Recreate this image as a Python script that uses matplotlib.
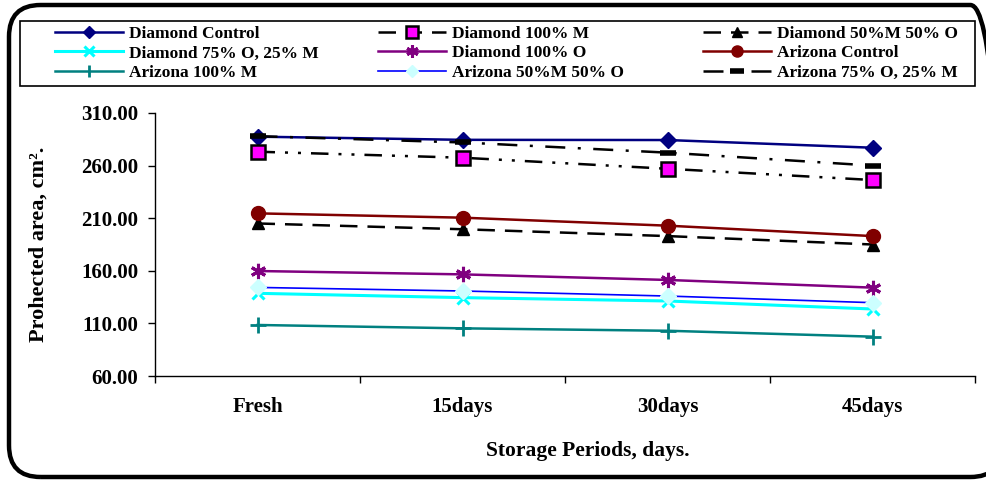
import matplotlib
matplotlib.use("Agg")
import matplotlib.pyplot as plt
from matplotlib.patches import FancyBboxPatch, Rectangle
import numpy as np

plt.rcParams['font.family'] = ['Liberation Serif', 'DejaVu Serif']
plt.rcParams['font.weight'] = 'bold'

periods = ["Fresh", "15days", "30days", "45days"]

diamond_control = [287.5, 284.5, 284.3, 277.0]
diamond_100m = [273.2, 267.5, 257.0, 246.3]
diamond_50m50o = [205.0, 199.5, 193.0, 185.0]
diamond_75o25m = [138.6, 134.5, 131.3, 123.7]
diamond_100o = [159.8, 156.6, 151.3, 144.0]
arizona_control = [214.6, 210.5, 202.9, 193.0]
arizona_100m = [108.5, 105.3, 103.0, 97.4]
arizona_50m50o = [144.2, 140.8, 136.0, 129.7]
arizona_75o25m = [288.0, 282.0, 272.3, 260.0]

yticks = [60, 110, 160, 210, 260, 310]

W, H = 987, 480
fig = plt.figure(figsize=(W / 100, H / 100), dpi=100)

# outer rounded border (extends past right/bottom edge like the reference)
bx0, by0, bx1, by1 = 9, 5, 1002, 477
border = FancyBboxPatch((bx0 / W, 1 - by1 / H), (bx1 - bx0) / W, (by1 - by0) / H,
                        boxstyle="round,pad=0,rounding_size=0.032",
                        transform=fig.transFigure, fill=False, edgecolor='black',
                        linewidth=3.2, mutation_aspect=W / H, clip_on=False)
fig.patches.append(border)

# legend frame
fig.patches.append(Rectangle((20 / W, 1 - 86 / H), (975 - 20) / W, (86 - 21) / H,
                             transform=fig.transFigure, fill=False, edgecolor='black',
                             linewidth=1.2))

ax = fig.add_axes([155 / W, 1 - 376 / H, (975 - 155) / W, (376 - 113) / H])
x = np.arange(len(periods))

series = [
    ("Diamond Control", diamond_control, dict(color='#000080', linestyle='-', linewidth=1.8,
                                              marker='D', markersize=8, markerfacecolor='#000080',
                                              markeredgecolor='#000080')),
    ("Diamond 100% M", diamond_100m, dict(color='black', linestyle=(0, (7, 4, 1.2, 4, 1.2, 4)), linewidth=1.8,
                                          marker='s', markersize=10, markerfacecolor='#FF00FF',
                                          markeredgecolor='black', markeredgewidth=1.8)),
    ("Diamond 50%M 50% O", diamond_50m50o, dict(color='black', linestyle=(0, (7, 4)), linewidth=1.8,
                                                marker='^', markersize=9, markerfacecolor='black',
                                                markeredgecolor='black')),
    ("Diamond 75% O, 25% M", diamond_75o25m, dict(color='#00FFFF', linestyle='-', linewidth=2.2,
                                                 marker='x', markersize=9, markeredgewidth=2.2,
                                                 markeredgecolor='#00FFFF')),
    ("Diamond 100% O", diamond_100o, dict(color='#800080', linestyle='-', linewidth=1.8,
                                          marker=(6, 2, 0), markersize=11, markeredgewidth=2.2,
                                          markeredgecolor='#800080')),
    ("Arizona Control", arizona_control, dict(color='#800000', linestyle='-', linewidth=1.8,
                                              marker='o', markersize=10, markerfacecolor='#800000',
                                              markeredgecolor='#800000')),
    ("Arizona 100% M", arizona_100m, dict(color='#008080', linestyle='-', linewidth=1.8,
                                          marker='|', markersize=11, markeredgewidth=2,
                                          markeredgecolor='#008080')),
    ("Arizona 50%M 50% O", arizona_50m50o, dict(color='#0000FF', linestyle='-', linewidth=1.2,
                                                marker='D', markersize=8, markerfacecolor='#CCFFFF',
                                                markeredgecolor='#CCFFFF')),
    ("Arizona 75% O, 25% M", arizona_75o25m, dict(color='black', linestyle=(0, (8, 5, 1.2, 5)), linewidth=1.8,
                                                 marker='_', markersize=12, markeredgewidth=4,
                                                 markeredgecolor='black')),
]

handles = {}
for label, vals, st in series:
    h, = ax.plot(x, vals, label=label, zorder=3, **st)
    handles[label] = h
# horizontal stroke of the '+' markers
ax.plot(x, arizona_100m, linestyle='none', marker='_', markersize=11, markeredgewidth=2,
        markeredgecolor='#008080', zorder=3)

ax.set_xlim(-0.5, len(periods) - 0.5)
ax.set_ylim(60, 310)
ax.set_yticks(yticks)
ax.set_yticklabels([f"{v:.2f}" for v in yticks], fontsize=15, fontweight='bold')
ax.set_xticks(np.arange(len(periods) + 1) - 0.5)
ax.set_xticklabels([])
ax.set_xticks(x, minor=True)
ax.set_xticklabels(periods, minor=True, fontsize=15, fontweight='bold')
ax.tick_params(axis='x', which='minor', length=0, pad=15)
ax.tick_params(axis='x', which='major', length=5, direction='out', width=1)
ax.tick_params(axis='y', length=5, direction='out', width=1, pad=7)
for s in ['top', 'right']:
    ax.spines[s].set_visible(False)
ax.spines['left'].set_linewidth(1)
ax.spines['bottom'].set_linewidth(1)

ax.set_xlabel("Storage Periods, days.", fontsize=15.5, fontweight='bold')
ax.xaxis.set_label_coords((588 - 155) / 820, -(441 - 376) / 263)
ax.set_ylabel("Prohected area, cm².", fontsize=16, fontweight='bold')
ax.yaxis.set_label_coords(-(155 - 49) / 820, 0.5)

columns = [["Diamond Control", "Diamond 75% O, 25% M", "Arizona 100% M"],
           ["Diamond 100% M", "Diamond 100% O", "Arizona 50%M 50% O"],
           ["Diamond 50%M 50% O", "Arizona Control", "Arizona 75% O, 25% M"]]
col_x = [55, 378, 703]
for cx, labels in zip(col_x, columns):
    leg = fig.legend([handles[k] for k in labels], labels, loc='upper left',
                     bbox_to_anchor=(cx / W, 1 - 25.5 / H), bbox_transform=fig.transFigure,
                     fontsize=12.5, handlelength=3.9, handletextpad=0.35,
                     borderpad=0, labelspacing=0.21, frameon=False, borderaxespad=0,
                     markerscale=0.8)
    for t in leg.get_texts():
        t.set_fontweight('bold')

fig.savefig("out.png", dpi=100)
